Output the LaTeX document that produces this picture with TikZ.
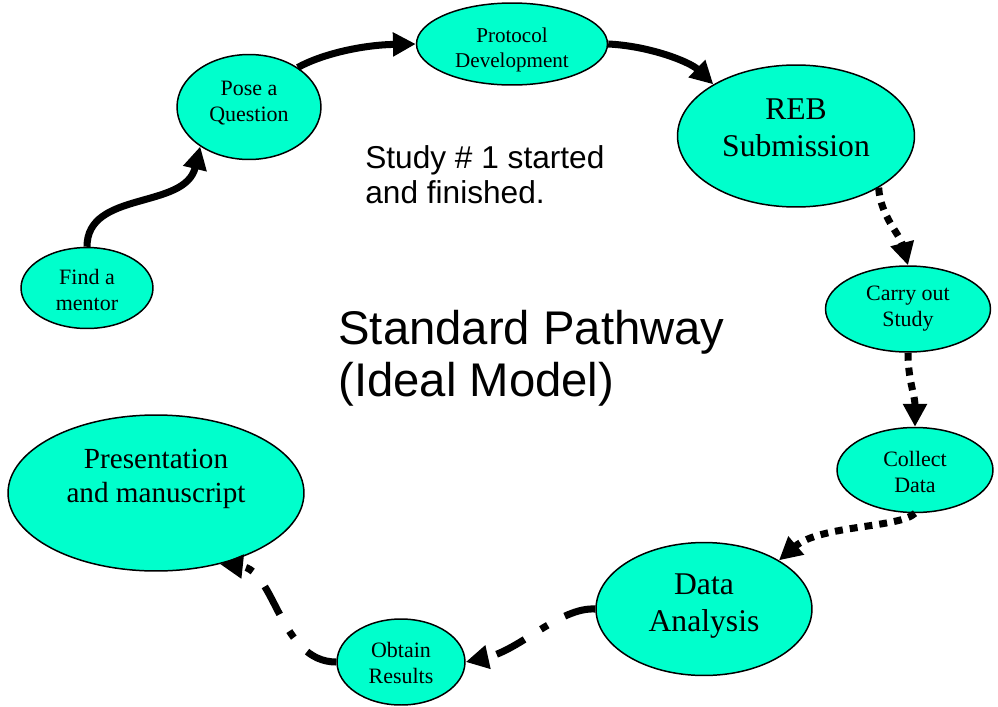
\documentclass[tikz,border=0pt]{standalone}
\usepackage{fontspec}
\setmainfont{Liberation Serif}
\newfontfamily\arialfont{Liberation Sans}
\usepackage{tikz}
\usetikzlibrary{shapes.geometric}
\usetikzlibrary{arrows.meta}
\definecolor{aqua}{RGB}{0,255,204}

\begin{document}
\begin{tikzpicture}[x=0.02cm, y=-0.02cm,
                    %pixel grid of the slide
                    stepoval/.style={ellipse, draw=black, fill=aqua, line width=0.85pt, inner sep=0pt},
                    smalltext/.style={align=center, inner sep=0pt, font=\fontsize{12.5}{14.8}\selectfont},
                    bigtext/.style={align=center, inner sep=0pt, font=\fontsize{18}{21.3}\selectfont},
                    solidarr/.style={-{Triangle[length=13pt,width=13pt]}, line width=4pt, draw=black},
                    dotarr/.style={solidarr, dash pattern=on 4.5pt off 4pt},
                    dasharr/.style={solidarr, dash pattern=on 18pt off 11pt on 4.5pt off 11pt}]

                    \useasboundingbox (0,0) rectangle (998,707);

                    \node[stepoval, minimum width=2.64cm, minimum height=1.62cm] (mentor) at (87,288) {};
                    \node[smalltext] (mentortxt) at (87,290) {Find a\\mentor};
                    \node[stepoval, minimum width=2.88cm, minimum height=2.10cm] (pose) at (249,107) {};
                    \node[smalltext] (posetxt) at (249,103) {Pose a\\Question};
                    \node[stepoval, minimum width=3.82cm, minimum height=1.64cm] (protocol) at (512,44) {};
                    \node[smalltext, font=\fontsize{12}{14.2}\selectfont] (protocoltxt) at (512,50) {Protocol\\Development};
                    \node[stepoval, minimum width=4.74cm, minimum height=2.84cm] (reb) at (796,136) {};
                    \node[bigtext] (rebtxt) at (796,128) {REB\\Submission};
                    \node[stepoval, minimum width=3.30cm, minimum height=1.72cm] (carry) at (908,309) {};
                    \node[smalltext] (carrytxt) at (908,309) {Carry out\\Study};
                    \node[stepoval, minimum width=3.12cm, minimum height=1.70cm] (collect) at (915,470) {};
                    \node[smalltext] (collecttxt) at (915,472) {Collect\\Data};
                    \node[stepoval, minimum width=4.32cm, minimum height=2.66cm] (analysis) at (704,609) {};
                    \node[bigtext] (analysistxt) at (704,606) {Data\\Analysis};
                    \node[stepoval, minimum width=2.56cm, minimum height=1.72cm] (obtain) at (401,662) {};
                    \node[smalltext] (obtaintxt) at (401,663) {Obtain\\Results};
                    \node[stepoval, minimum width=5.92cm, minimum height=3.12cm] (pres) at (156,493) {};
                    \node[bigtext, font=\fontsize{16.6}{19.4}\selectfont] (prestxt) at (156,479) {Presentation\\and manuscript};

                    \node[anchor=north west, inner sep=0pt, align=left, font=\arialfont\fontsize{18}{20}\selectfont] (study) at (365,145) {Study \# 1 started\\and finished.};
                    \node[anchor=north west, inner sep=0pt, align=left, font=\arialfont\fontsize{26.9}{29.6}\selectfont] (title) at (338,310) {Standard Pathway\\(Ideal Model)};

                    \draw[solidarr] (mentor.north) .. controls (87,190) and (185,210) .. (pose.219);
                    \draw[solidarr] (pose.39) .. controls (320,55) and (360,45) .. (protocol.west);
                    \draw[solidarr] (protocol.east) .. controls (650,46) and (690,62) .. (reb.148);
                    \draw[dotarr] (reb.328) .. controls (880,215) and (900,235) .. (carry.north);
                    \draw[dotarr] (carry.south) .. controls (908,380) and (915,395) .. (collect.north);
                    \draw[dotarr] (collect.south) .. controls (900,528) and (820,525) .. (analysis.33);
                    \draw[dasharr] (analysis.west) .. controls (560,607) and (520,650) .. (obtain.east);
                    \draw[dasharr] (obtain.west) .. controls (280,662) and (275,570) .. (pres.312);
                    \end{tikzpicture}
\end{document}
